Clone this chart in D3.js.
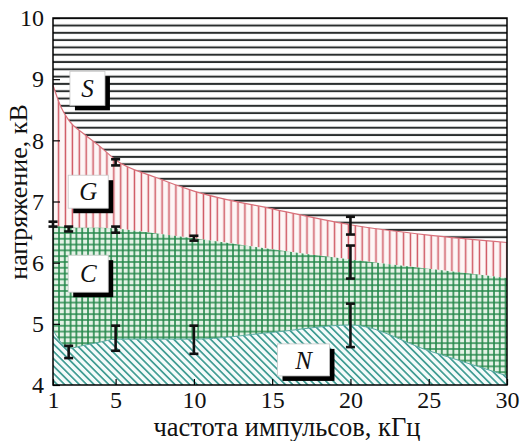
<!DOCTYPE html>
<html>
<head>
<meta charset="utf-8">
<script src="https://cdn.jsdelivr.net/npm/d3@7"></script>
<style>
  html, body { margin: 0; padding: 0; background: #fff; }
  svg { display: block; font-family: "Liberation Serif", "Times New Roman", "DejaVu Serif", serif; }
</style>
</head>
<body>
<div id="chart"></div>
<script>
// частоты (кГц), в которых заданы границы областей
const freq = [1, 1.5, 2, 3, 4, 5, 7.5, 10, 15, 20, 25, 30];
// граница S / G (искра / тлеющий)
const boundSG = [8.9, 8.55, 8.33, 8.1, 7.9, 7.68, 7.4, 7.17, 6.88, 6.62, 6.45, 6.33];
// граница G / C
const boundGC = [6.6, 6.59, 6.58, 6.57, 6.57, 6.56, 6.48, 6.4, 6.22, 6.05, 5.9, 5.75];
// граница C / N
const boundCN = [4.9, 4.7, 4.6, 4.65, 4.7, 4.75, 4.75, 4.75, 4.86, 4.98, 4.56, 4.15];

// погрешности: частота, низ, верх
const errFreq = [1, 2, 2, 5, 5, 5, 10, 10, 20, 20, 20];
const errLow  = [6.59, 6.51, 4.44, 7.59, 6.49, 4.56, 6.36, 4.51, 6.46, 5.74, 4.62];
const errHigh = [6.67, 6.59, 4.64, 7.69, 6.59, 4.97, 6.44, 4.97, 6.75, 6.28, 5.33];

// подписи областей (центр в единицах данных)
const regionNames = ["S", "G", "C", "N"];
const regionFreq  = [3.2, 3.25, 3.25, 17.0];
const regionVolt  = [8.85, 7.16, 5.82, 4.41];

const xTicks = [1, 5, 10, 15, 20, 25, 30];
const yTicks = [4, 5, 6, 7, 8, 9, 10];

const width = 524, height = 441;
const marginTop = 18, marginRight = 17, marginBottom = 56, marginLeft = 53;
const serif = "'Liberation Serif', 'Times New Roman', 'DejaVu Serif', serif";

const x = d3.scaleLinear().domain([1, 30]).range([marginLeft, width - marginRight]);
const y = d3.scaleLinear().domain([4, 10]).range([height - marginBottom, marginTop]);

const svg = d3.select("#chart").append("svg")
    .attr("width", width)
    .attr("height", height)
    .attr("viewBox", [0, 0, width, height]);

// штриховки
const defs = svg.append("defs");

const pS = defs.append("pattern").attr("id", "hatchS")
    .attr("patternUnits", "userSpaceOnUse").attr("width", 10).attr("height", 7.3);
pS.append("rect").attr("width", 10).attr("height", 7.3).attr("fill", "#fff");
pS.append("line").attr("x1", 0).attr("x2", 10).attr("y1", 3.6).attr("y2", 3.6)
    .attr("stroke", "#2a2e2e").attr("stroke-width", 2);

const pG = defs.append("pattern").attr("id", "hatchG")
    .attr("patternUnits", "userSpaceOnUse").attr("width", 6.9).attr("height", 10);
pG.append("rect").attr("width", 6.9).attr("height", 10).attr("fill", "#fdf6f6");
pG.append("line").attr("x1", 3.4).attr("x2", 3.4).attr("y1", 0).attr("y2", 10)
    .attr("stroke", "#cf5863").attr("stroke-width", 1.5);

const pC = defs.append("pattern").attr("id", "hatchC")
    .attr("patternUnits", "userSpaceOnUse").attr("width", 5.8).attr("height", 5.8);
pC.append("rect").attr("width", 5.8).attr("height", 5.8).attr("fill", "#e4f2e6");
pC.append("path").attr("d", "M0,1 H5.8 M1,0 V5.8")
    .attr("stroke", "#24884a").attr("stroke-width", 1.6).attr("fill", "none");

const pN = defs.append("pattern").attr("id", "hatchN")
    .attr("patternUnits", "userSpaceOnUse").attr("width", 5.2).attr("height", 10)
    .attr("patternTransform", "rotate(-45)");
pN.append("rect").attr("width", 5.2).attr("height", 10).attr("fill", "#f4fbfa");
pN.append("line").attr("x1", 2.6).attr("x2", 2.6).attr("y1", 0).attr("y2", 10)
    .attr("stroke", "#35968c").attr("stroke-width", 1.6);

const pts = arr => freq.map((f, i) => [f, arr[i]]);
const top10 = freq.map(() => 10), bottom4 = freq.map(() => 4);

const area = (lo, hi) => d3.area()
    .x((d, i) => x(freq[i]))
    .y0((d, i) => y(lo[i]))
    .y1((d, i) => y(hi[i]))
    .curve(d3.curveMonotoneX)(freq);

const regions = [
  { lo: boundSG, hi: top10,   fill: "url(#hatchS)" },
  { lo: boundGC, hi: boundSG, fill: "url(#hatchG)" },
  { lo: boundCN, hi: boundGC, fill: "url(#hatchC)" },
  { lo: bottom4, hi: boundCN, fill: "url(#hatchN)" }
];

svg.append("g")
  .selectAll("path")
  .data(regions)
  .join("path")
    .attr("d", d => area(d.lo, d.hi))
    .attr("fill", d => d.fill);

// границы
const line = d3.line().x(d => x(d[0])).y(d => y(d[1])).curve(d3.curveMonotoneX);
svg.append("path").attr("d", line(pts(boundSG)))
    .attr("fill", "none").attr("stroke", "#d8707a").attr("stroke-width", 1.2);
svg.append("path").attr("d", line(pts(boundCN)))
    .attr("fill", "none").attr("stroke", "#55a9a0").attr("stroke-width", 1);

// оси
svg.append("g")
    .attr("transform", `translate(0,${height - marginBottom})`)
    .call(d3.axisBottom(x).tickValues(xTicks).tickFormat(d3.format("d"))
        .tickSizeInner(-6).tickSizeOuter(0).tickPadding(6))
    .call(g => g.select(".domain").remove())
    .call(g => g.selectAll(".tick line").attr("stroke", "#000").attr("stroke-width", 1.2))
    .call(g => g.selectAll(".tick text").attr("font-size", 24).attr("fill", "#111")
        .attr("font-family", serif));

svg.append("g")
    .attr("transform", `translate(${marginLeft},0)`)
    .call(d3.axisLeft(y).tickValues(yTicks).tickFormat(d3.format("d"))
        .tickSizeInner(-7).tickSizeOuter(0).tickPadding(9))
    .call(g => g.select(".domain").remove())
    .call(g => g.selectAll(".tick line").attr("stroke", "#000").attr("stroke-width", 1.2))
    .call(g => g.selectAll(".tick text").attr("font-size", 24).attr("fill", "#111")
        .attr("font-family", serif));

svg.append("rect")
    .attr("x", marginLeft).attr("y", marginTop)
    .attr("width", width - marginLeft - marginRight)
    .attr("height", height - marginTop - marginBottom)
    .attr("fill", "none").attr("stroke", "#000").attr("stroke-width", 1.5);

// погрешности
const eb = svg.append("g").attr("stroke", "#111").attr("stroke-width", 2.6);
errFreq.forEach((f, i) => {
  const cx = x(f);
  eb.append("line").attr("x1", cx).attr("x2", cx).attr("y1", y(errLow[i])).attr("y2", y(errHigh[i]));
  eb.append("line").attr("x1", cx - 4.5).attr("x2", cx + 4.5).attr("y1", y(errLow[i])).attr("y2", y(errLow[i]));
  eb.append("line").attr("x1", cx - 4.5).attr("x2", cx + 4.5).attr("y1", y(errHigh[i])).attr("y2", y(errHigh[i]));
});

// подписи областей
const boxW = [35, 40, 40, 52], boxH = [34, 33, 37, 32];
regionNames.forEach((name, i) => {
  const cx = x(regionFreq[i]), cy = y(regionVolt[i]);
  const g = svg.append("g").attr("transform", `translate(${cx},${cy})`);
  g.append("rect").attr("x", -boxW[i] / 2 + 5).attr("y", -boxH[i] / 2 + 5)
      .attr("width", boxW[i]).attr("height", boxH[i]).attr("fill", "#000");
  g.append("rect").attr("x", -boxW[i] / 2).attr("y", -boxH[i] / 2)
      .attr("width", boxW[i]).attr("height", boxH[i])
      .attr("fill", "#fff").attr("stroke", "#c8c8c8").attr("stroke-width", 0.8);
  g.append("text").attr("text-anchor", "middle").attr("dy", "0.35em")
      .attr("font-style", "italic").attr("font-size", 25).attr("fill", "#111")
      .attr("font-family", serif)
      .text(name);
});

// названия осей
svg.append("text")
    .attr("x", 287)
    .attr("y", 436)
    .attr("text-anchor", "middle").attr("font-size", 26.5).attr("fill", "#111")
    .attr("font-family", serif)
    .text("частота импульсов, кГц");

svg.append("text")
    .attr("transform", `translate(27,${192}) rotate(-90)`)
    .attr("text-anchor", "middle").attr("font-size", 26).attr("fill", "#111")
    .attr("font-family", serif)
    .text("напряжение, кВ");
</script>
</body>
</html>
